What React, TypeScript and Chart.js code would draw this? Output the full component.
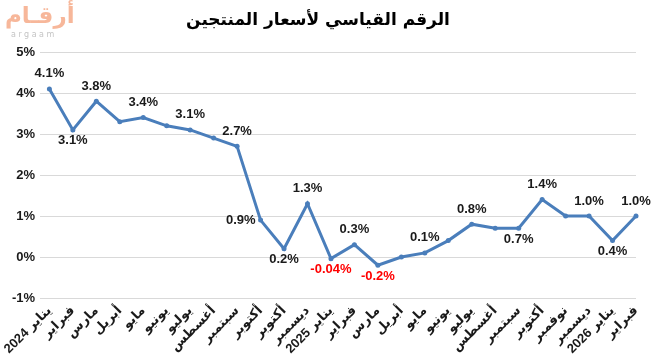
import React, { useEffect, useRef } from "react";
import { Chart, registerables } from "chart.js";

Chart.register(...registerables);

const TITLE = "الرقم القياسي لأسعار المنتجين";

const months: string[] = [
  "يناير 2024", "فبراير", "مارس", "أبريل", "مايو", "يونيو", "يوليو", "أغسطس", "سبتمبر", "أكتوبر", "أكتوبر", "ديسمبر",
  "يناير 2025", "فبراير", "مارس", "أبريل", "مايو", "يونيو", "يوليو", "أغسطس", "سبتمبر", "أكتوبر", "نوفمبر", "ديسمبر",
  "يناير 2026", "فبراير",
];

const values: number[] = [
  4.1, 3.1, 3.8, 3.3, 3.4, 3.2, 3.1, 2.9, 2.7, 0.9, 0.2, 1.3,
  -0.04, 0.3, -0.2, 0.0, 0.1, 0.4, 0.8, 0.7, 0.7, 1.4, 1.0, 1.0,
  0.4, 1.0,
];

// where each value label sits (null = no label)
const labelPos: (string | null)[] = [
  "above", "below", "above", null, "above", null, "above", null, "above", "left", "below", "above",
  "below", "above", "below", null, "above", null, "above", null, "below", "above", null, "above",
  "below", "above",
];

const yTicks = [-1, 0, 1, 2, 3, 4, 5];

const fmt = (v: number) =>
  (Math.abs(v) < 0.1 && v !== 0 ? v.toFixed(2) : v.toFixed(1)) + "%";

const valueLabels = {
  id: "valueLabels",
  afterDatasetsDraw(chart: any) {
    const ctx = chart.ctx;
    const meta = chart.getDatasetMeta(0);
    ctx.save();
    ctx.font = "bold 13px 'Liberation Sans', 'DejaVu Sans', sans-serif";
    meta.data.forEach((el: any, i: number) => {
      const pos = labelPos[i];
      if (!pos) return;
      const v = values[i];
      ctx.fillStyle = v < 0 ? "#ff0000" : "#1a1a1a";
      ctx.textBaseline = "middle";
      if (pos === "left") {
        ctx.textAlign = "right";
        ctx.fillText(fmt(v), el.x - 5, el.y);
      } else {
        ctx.textAlign = "center";
        ctx.fillText(fmt(v), el.x, pos === "above" ? el.y - 15 : el.y + 11);
      }
    });
    ctx.restore();
  },
};

export default function App() {
  const ref = useRef<HTMLCanvasElement | null>(null);

  useEffect(() => {
    if (!ref.current) return;
    const chart = new Chart(ref.current, {
      type: "line",
      data: {
        datasets: [
          {
            data: values.map((v, i) => ({ x: i, y: v })),
            borderColor: "#4a7ebb",
            backgroundColor: "#4a7ebb",
            borderWidth: 3,
            pointRadius: 2.5,
            pointBorderWidth: 0,
            tension: 0,
            clip: false as any,
          },
        ],
      },
      options: {
        animation: false,
        responsive: false,
        devicePixelRatio: 1,
        layout: { padding: { left: 0, right: 19, top: 0, bottom: 0 } },
        plugins: {
          legend: { display: false },
          tooltip: { enabled: false },
          title: {
            display: true,
            text: TITLE,
            color: "#000000",
            font: { size: 17, weight: "bold", family: "'DejaVu Sans', sans-serif", lineHeight: 1.5 },
            padding: { top: 8, bottom: 18.5 },
          },
        },
        scales: {
          x: {
            type: "linear",
            min: -0.4,
            max: months.length - 1,
            grid: { display: false, drawTicks: false },
            border: { display: false },
            afterFit: (s: any) => {
              s.height = 66;
            },
            ticks: {
              stepSize: 1,
              maxTicksLimit: 40,
              autoSkip: false,
              includeBounds: false,
              minRotation: 45,
              maxRotation: 45,
              padding: 5,
              color: "#1a1a1a",
              font: { size: 13, weight: "bold", family: "'Liberation Sans', 'DejaVu Sans', sans-serif" },
              callback: (v: any) => (Number.isInteger(v) && months[v] !== undefined ? months[v] : ""),
            },
          },
          y: {
            min: yTicks[0],
            max: yTicks[yTicks.length - 1],
            grid: { color: "#d9d9d9", lineWidth: 1, drawTicks: false },
            border: { display: false },
            afterFit: (s: any) => {
              s.width = 40;
            },
            ticks: {
              stepSize: 1,
              padding: 5,
              color: "#1a1a1a",
              font: { size: 13, weight: "bold", family: "'Liberation Sans', sans-serif" },
              callback: (v: any) => v + "%",
            },
          },
        },
      },
      plugins: [valueLabels],
    });
    return () => chart.destroy();
  }, []);

  return (
    <div style={{ position: "fixed", left: 0, top: 0, width: 655, height: 364, background: "#fff" }}>
      <canvas ref={ref} width={655} height={364} style={{ display: "block" }} />
      <div
        style={{
          position: "absolute",
          left: 5,
          top: 0,
          whiteSpace: "nowrap",
          direction: "rtl",
          font: "bold 23px 'DejaVu Sans', sans-serif",
          color: "#f7b79a",
          lineHeight: "30px",
        }}
      >
        أرقـام
      </div>
      <div
        style={{
          position: "absolute",
          left: 11,
          top: 30,
          whiteSpace: "nowrap",
          font: "8px 'DejaVu Sans', sans-serif",
          letterSpacing: "2.5px",
          color: "#c4c4c4",
        }}
      >
        argaam
      </div>
    </div>
  );
}
